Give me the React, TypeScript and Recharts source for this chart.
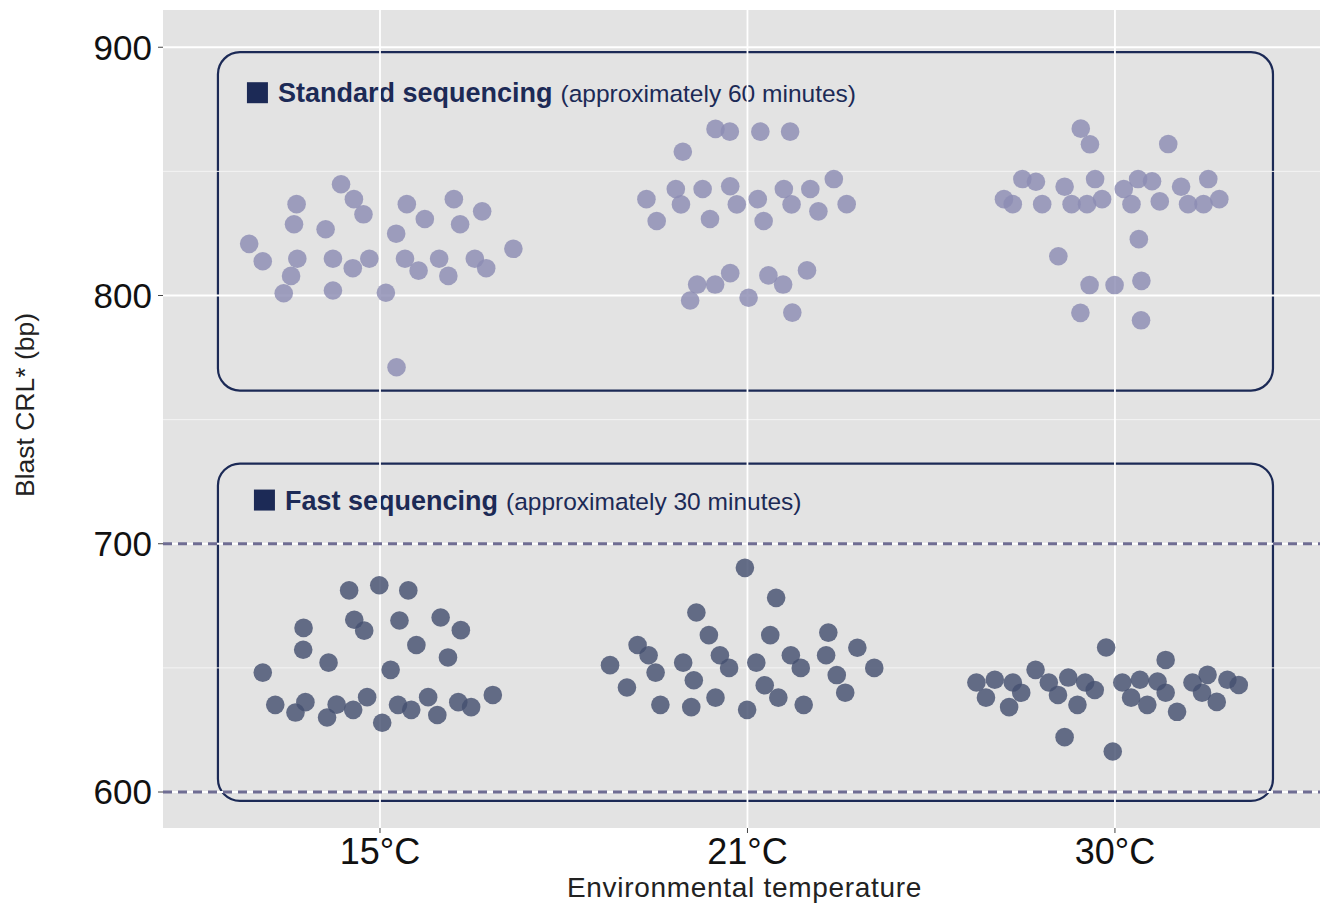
import React from 'react';
import {
  ScatterChart, Scatter, XAxis, YAxis, CartesianGrid, ReferenceLine, ReferenceArea,
} from 'recharts';

const FONT = '"Liberation Sans", Arial, Helvetica, sans-serif';
const NAVY = '#1c2a56';

const tempTicks = [1, 2, 3];
const tempLabels = ['15°C', '21°C', '30°C'];
const yTicks = [600, 700, 800, 900];
const yMinor = [650, 750, 850];
const cutoffs = [600, 700];

// [x position incl. jitter, blast CRL]
const std15 = [
  [0.894, 844.8], [0.929, 838.8], [0.955, 832.7], [0.773, 836.8], [0.766, 828.7], [0.852, 826.7],
  [0.644, 820.8], [0.681, 813.8], [0.775, 814.8], [0.758, 807.9], [0.738, 800.9], [0.872, 814.8],
  [0.926, 811.0], [0.971, 814.8], [0.872, 802.0], [1.016, 801.1], [1.045, 771.1], [1.044, 824.9],
  [1.073, 836.8], [1.122, 830.8], [1.068, 814.8], [1.105, 810.0], [1.161, 814.8], [1.186, 807.9],
  [1.201, 838.8], [1.218, 828.7], [1.278, 833.9], [1.258, 814.8], [1.289, 811.0], [1.363, 818.8],
];
const std21 = [
  [1.913, 867.1], [1.952, 866.0], [2.035, 866.0], [2.116, 866.0], [1.824, 857.9], [1.725, 838.8],
  [1.805, 842.9], [1.819, 836.7], [1.753, 830.0], [1.878, 842.9], [1.898, 830.8], [1.953, 844.0],
  [1.971, 836.7], [2.028, 838.8], [2.044, 830.0], [2.099, 842.9], [2.120, 836.7], [2.171, 842.9],
  [2.193, 833.9], [2.235, 846.9], [2.270, 836.8], [1.953, 809.0], [1.863, 804.4], [1.912, 804.4],
  [1.844, 798.0], [2.057, 808.1], [2.097, 804.4], [2.162, 810.1], [2.003, 799.1], [2.122, 793.1],
];
const std30 = [
  [2.907, 867.2], [2.932, 860.9], [3.145, 861.0], [2.748, 846.9], [2.785, 845.8], [2.698, 838.8],
  [2.722, 836.8], [2.802, 836.8], [2.863, 843.8], [2.882, 836.8], [2.924, 836.8], [2.946, 846.9],
  [2.965, 838.8], [3.024, 842.9], [3.063, 846.9], [3.101, 846.0], [3.045, 836.8], [3.122, 837.9],
  [3.180, 843.8], [3.254, 846.9], [3.199, 836.8], [3.241, 836.8], [3.284, 838.8], [3.065, 822.7],
  [2.846, 815.8], [2.931, 804.2], [2.999, 804.2], [3.072, 805.9], [2.906, 793.0], [3.071, 790.0],
];
const fast15 = [
  [0.916, 681.2], [0.998, 683.3], [1.077, 681.2], [0.930, 669.4], [0.957, 665.0], [1.053, 669.1],
  [1.165, 670.3], [1.220, 665.2], [0.792, 666.1], [0.791, 657.3], [0.860, 652.1], [1.099, 659.2],
  [1.185, 654.2], [0.681, 648.1], [1.029, 649.2], [0.715, 635.1], [0.770, 632.0], [0.797, 636.2],
  [0.856, 630.0], [0.882, 635.2], [0.927, 633.1], [0.965, 638.2], [1.006, 627.9], [1.049, 635.1],
  [1.085, 633.1], [1.131, 638.2], [1.156, 631.0], [1.213, 636.2], [1.248, 634.2], [1.307, 639.1],
];
const fast21 = [
  [1.993, 690.3], [2.078, 678.2], [1.861, 672.3], [1.895, 663.2], [2.062, 663.2], [2.220, 664.2],
  [1.701, 659.2], [1.731, 655.1], [1.626, 651.1], [1.750, 648.1], [1.825, 652.1], [1.925, 655.1],
  [1.950, 650.0], [2.024, 652.1], [2.118, 655.1], [2.145, 650.0], [2.214, 655.1], [2.299, 658.1],
  [2.345, 650.0], [1.672, 642.1], [1.854, 645.0], [2.047, 643.0], [2.243, 647.1], [2.266, 640.0],
  [1.763, 635.1], [1.847, 634.2], [1.913, 638.0], [1.999, 633.1], [2.084, 638.0], [2.153, 635.1],
];
const fast30 = [
  [2.976, 658.2], [3.138, 653.2], [2.784, 649.2], [2.623, 644.1], [2.673, 645.2], [2.722, 644.1],
  [2.649, 638.0], [2.745, 640.0], [2.712, 634.2], [2.820, 644.1], [2.845, 639.1], [2.873, 646.1],
  [2.919, 644.1], [2.945, 641.1], [2.898, 635.1], [2.863, 622.1], [2.994, 616.3], [3.020, 644.1],
  [3.068, 645.2], [3.116, 644.5], [3.044, 638.0], [3.088, 635.1], [3.138, 640.0], [3.169, 632.3],
  [3.211, 644.1], [3.252, 647.2], [3.237, 640.0], [3.277, 636.3], [3.306, 645.2], [3.337, 643.1],
];

const toPoints = (rows: number[][]) => rows.map(([x, y]) => ({ x, y }));
const standardPoints = toPoints([...std15, ...std21, ...std30]);
const fastPoints = toPoints([...fast15, ...fast21, ...fast30]);

const dot = (fill: string) => (p: any) => (
  <circle cx={p.cx} cy={p.cy} r={9.3} fill={fill} fillOpacity={0.82} />
);

const panel = (title: string, note: string, indent: number, drop: number) => (p: any) => {
  const { x, y, width, height } = p;
  return (
    <g>
      <rect x={x} y={y} width={width} height={height} rx={22} ry={22}
        fill="none" stroke={NAVY} strokeWidth={2.2} />
      <rect x={x + indent} y={y + drop - 20} width={21} height={21} fill={NAVY} />
      <text x={x + indent + 31} y={y + drop} fontFamily={FONT} fill={NAVY}>
        <tspan fontSize={27} fontWeight="bold">{title}</tspan>
        <tspan fontSize={24.5} dx={8}>{note}</tspan>
      </text>
    </g>
  );
};

export default function App() {
  return (
    <div style={{ position: 'absolute', left: 0, top: 0, width: 1320, height: 903, fontFamily: FONT }}>
      <ScatterChart width={1320} height={903} margin={{ top: 10, right: 0, left: 0, bottom: 0 }}>
        <CartesianGrid fill="#e3e3e3" horizontal={false} vertical={false} />
        {yMinor.map((v) => (
          <ReferenceLine key={`m${v}`} y={v} stroke="#f4f4f4" strokeWidth={1} />
        ))}
        {yTicks.map((v) => (
          <ReferenceLine key={`M${v}`} y={v} stroke="#ffffff" strokeWidth={1.8} />
        ))}
        {tempTicks.map((v) => (
          <ReferenceLine key={`v${v}`} x={v} stroke="#ffffff" strokeWidth={1.8} />
        ))}
        {cutoffs.map((v) => (
          <ReferenceLine key={`c${v}`} y={v} stroke="#6f6d93" strokeWidth={3} strokeDasharray="9 6" />
        ))}
        <XAxis
          type="number"
          dataKey="x"
          domain={[0.4095, 3.558]}
          ticks={tempTicks}
          tickFormatter={(v: number) => tempLabels[v - 1]}
          allowDataOverflow
          height={75}
          axisLine={false}
          tickLine={{ stroke: '#444' }}
          tickSize={5}
          tickMargin={5}
          tick={{ fontSize: 36, fill: '#111', fontFamily: FONT }}
          label={({ viewBox }: any) => (
            <text x={viewBox.x + viewBox.width / 2 + 3} y={viewBox.y + 69} textAnchor="middle"
              fontSize={28} letterSpacing={0.7} fill="#222" fontFamily={FONT}>
              Environmental temperature
            </text>
          )}
        />
        <YAxis
          type="number"
          dataKey="y"
          domain={[585.5, 915]}
          ticks={yTicks}
          allowDataOverflow
          width={163}
          axisLine={false}
          tickLine={{ stroke: '#444' }}
          tickSize={5}
          tickMargin={6}
          tick={{ fontSize: 35, fill: '#111', fontFamily: FONT }}
          label={({ viewBox }: any) => {
            const cx = viewBox.x + 25;
            const cy = viewBox.y + viewBox.height / 2 - 14;
            return (
              <text x={cx} y={cy} transform={`rotate(-90, ${cx}, ${cy})`} textAnchor="middle"
                dominantBaseline="central" fontSize={26.5} fill="#222" fontFamily={FONT}>
                Blast CRL* (bp)
              </text>
            );
          }}
        />
        <ReferenceArea x1={0.559} x2={3.43} y1={761.7} y2={898}
          shape={panel('Standard sequencing', '(approximately 60 minutes)', 29, 50)} />
        <ReferenceArea x1={0.559} x2={3.43} y1={596.4} y2={732.3}
          shape={panel('Fast sequencing', '(approximately 30 minutes)', 36, 46)} />
        <Scatter name="Standard" data={standardPoints} shape={dot('#8c8cb3')} isAnimationActive={false} />
        <Scatter name="Fast" data={fastPoints} shape={dot('#465070')} isAnimationActive={false} />
      </ScatterChart>
    </div>
  );
}
